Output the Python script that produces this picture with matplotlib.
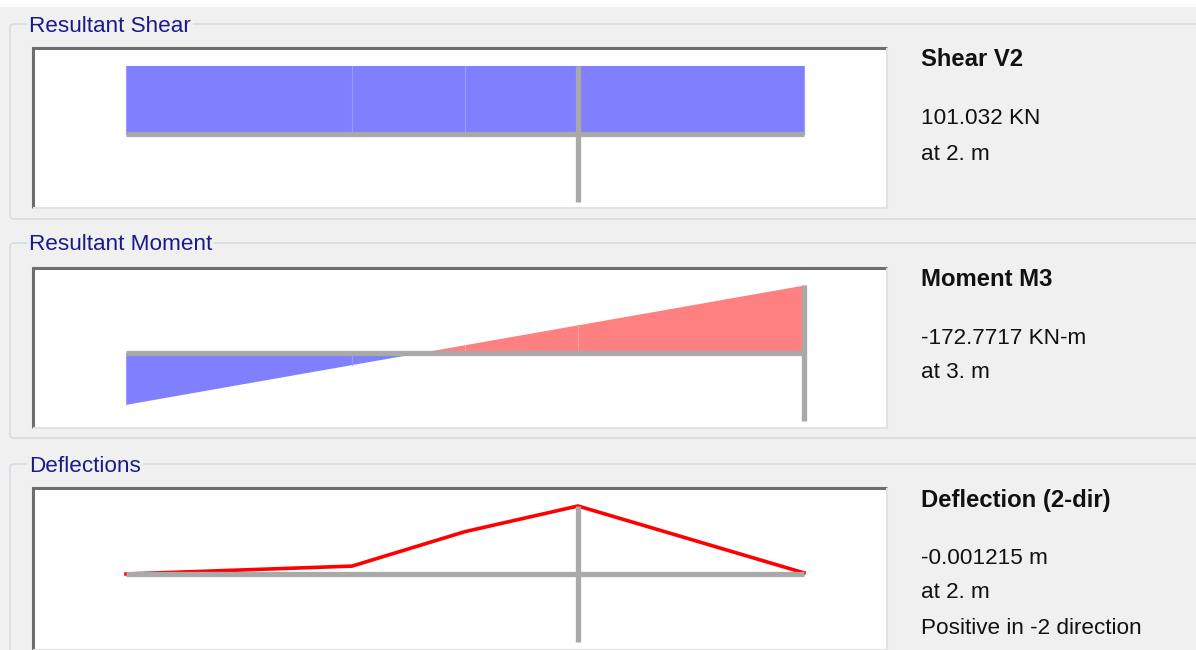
import numpy as np
import matplotlib.pyplot as plt
from matplotlib.patches import FancyBboxPatch, Rectangle

plt.rcParams['font.family'] = ['Liberation Sans', 'DejaVu Sans']

W, H = 1196, 650

# frame stations (m) and results at each station
stations = [0.0, 1.0, 1.5, 2.0, 3.0]
shear_v2 = [101.032, 101.032, 101.032, 101.032, 101.032]
moment_m3 = [130.3, 29.3, -21.2, -71.7, -172.7717]
deflection_2 = [0.0, -0.000141, -0.000757, -0.001215, -0.00002]

group_titles = ["Resultant Shear", "Resultant Moment", "Deflections"]
shear_text = ["Shear V2", "101.032 KN", "at 2. m"]
moment_text = ["Moment M3", "-172.7717 KN-m", "at 3. m"]
defl_text = ["Deflection (2-dir)", "-0.001215 m", "at 2. m", "Positive in -2 direction"]

shear_at, shear_max = 2.0, 101.032
moment_at, moment_max = 3.0, -172.7717
defl_at, defl_max = 2.0, -0.001215

BG = '#f0f0f0'
BLUE = '#8080ff'
RED = '#ff8080'
GREY = '#a9a9a9'
TITLE_C = '#1a1a8c'

fig = plt.figure(figsize=(W / 100, H / 100), dpi=100, facecolor=BG)

# full-figure layer in pixel coordinates for the group boxes and labels
bg = fig.add_axes([0, 0, 1, 1])
bg.set_xlim(0, W)
bg.set_ylim(H, 0)
bg.axis('off')
bg.add_patch(Rectangle((0, 0), W, 7, color='white', lw=0))

group_boxes = [(24, 219), (243, 438), (464, 720)]
for (y0, y1), title in zip(group_boxes, group_titles):
    bg.add_patch(FancyBboxPatch((10, y0), W + 20, y1 - y0,
                                boxstyle='round,pad=0,rounding_size=4',
                                fc='none', ec='#d5dde3', lw=1.2))
    bg.text(29, y0 + 2, title, color=TITLE_C, fontsize=16.2, va='center', ha='left',
            bbox=dict(fc=BG, ec='none', pad=1.5))


def side_text(lines, ys):
    for i, (s, y) in enumerate(zip(lines, ys)):
        bg.text(921, y + 2, s, fontsize=17.2 if i == 0 else 16.2,
                fontweight='bold' if i == 0 else 'normal',
                color='#111111', va='center', ha='left')


side_text(shear_text, [58, 117, 152])
side_text(moment_text, [278, 336, 371])
side_text(defl_text, [498, 556, 591, 627])

# white diagram boxes
X0, X1 = 33, 887
PX_PER_M = 226.0
ORIGIN = 126
AMP = 68.0


def panel(top, axis_y, bottom, vmax, up_positive):
    ax = fig.add_axes([X0 / W, 1 - bottom / H, (X1 - X0) / W, (bottom - top) / H])
    ax.set_facecolor('white')
    ax.set_xlim((X0 - ORIGIN) / PX_PER_M, (X1 - ORIGIN) / PX_PER_M)
    s = abs(vmax) / AMP
    lo, hi = -(bottom - axis_y) * s, (axis_y - top) * s
    if up_positive:
        ax.set_ylim(lo, hi)
    else:
        ax.set_ylim(-lo, -hi)
    for sp in ax.spines.values():
        sp.set_visible(False)
    ax.set_xticks([])
    ax.set_yticks([])
    # sunken border
    ax.plot([0, 0, 1], [0, 1, 1], transform=ax.transAxes, color='#6e6e6e',
            lw=2.2, solid_joinstyle='miter', solid_capstyle='butt', clip_on=False)
    ax.plot([0, 1, 1], [0, 0, 1], transform=ax.transAxes, color='#e2e2e2',
            lw=1.5, solid_capstyle='butt', clip_on=False)
    return ax


def beam_and_marker(ax, x_at, v_at):
    ax.plot([stations[0], stations[-1]], [0, 0], color=GREY, lw=3.8,
            solid_capstyle='butt', zorder=4)
    ax.plot([x_at, x_at], [-abs(v_at), abs(v_at)], color=GREY, lw=3.8,
            solid_capstyle='butt', zorder=5)


def filled_diagram(ax, xs, vs):
    xs = np.array(xs)
    vs = np.array(vs)
    ax.fill_between(xs, vs, 0, where=vs >= 0, interpolate=True,
                    color=BLUE, lw=0, zorder=2)
    ax.fill_between(xs, vs, 0, where=vs <= 0, interpolate=True,
                    color=RED, lw=0, zorder=2)
    # faint seams between station segments
    for x, v in zip(xs, vs):
        c = '#9c9cff' if v >= 0 else '#ff9c9c'
        ax.plot([x, x], [0, v], color=c, lw=0.8, zorder=3)


# shear
ax1 = panel(48, 134, 208, shear_max, True)
filled_diagram(ax1, stations, shear_v2)
beam_and_marker(ax1, shear_at, shear_max)

# moment (negative drawn upward)
ax2 = panel(268, 353, 428, moment_max, False)
filled_diagram(ax2, stations, moment_m3)
beam_and_marker(ax2, moment_at, moment_max)

# deflection (negative drawn upward)
ax3 = panel(488, 574, 650, defl_max, False)
ax3.plot(stations, deflection_2, color='#ff0000', lw=2.6, zorder=3,
         solid_joinstyle='miter')
beam_and_marker(ax3, defl_at, defl_max)

fig.savefig('out.png', dpi=100, facecolor=BG)
